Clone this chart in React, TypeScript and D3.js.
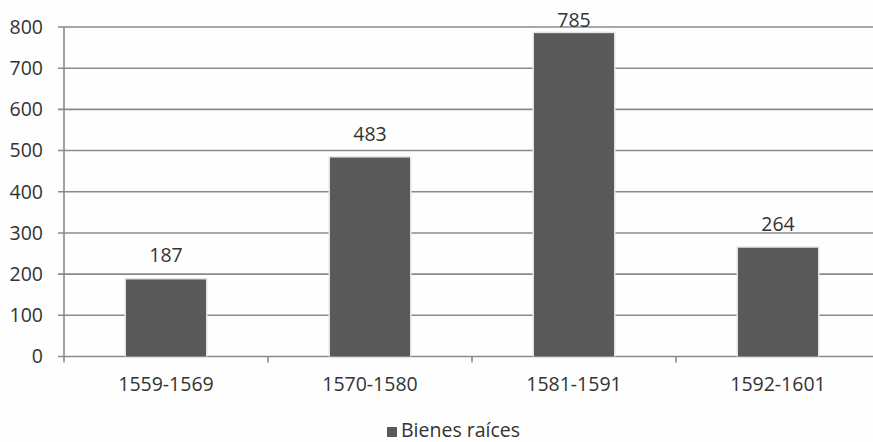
import React from "react";
import * as d3 from "d3";

const categories = ["1559-1569", "1570-1580", "1581-1591", "1592-1601"];
const values = [187, 483, 785, 264];
const yTicks = [0, 100, 200, 300, 400, 500, 600, 700, 800];
const seriesName = "Bienes raíces";

const W = 873;
const H = 442;
const FONT = "'Open Sans', sans-serif";

export default function App() {
  const left = 64;
  const right = 880;
  const top = 27;
  const bottom = 356.5;

  const x = d3.scaleBand<string>().domain(categories).range([left, right]).paddingInner(0).paddingOuter(0);
  const y = d3.scaleLinear().domain([0, 800]).range([bottom, top]);
  const barW = 80;
  const grid = "#8a8a8a";
  const text = "#333333";
  const fs = 19.5;

  return (
    <svg
      width={W}
      height={H}
      style={{ position: "absolute", left: 0, top: 0, background: "#fefefe" }}
      fontFamily={FONT}
    >
      <rect x={0} y={0} width={W} height={H} fill="#fefefe" />
      {yTicks.map((t) => (
        <g key={t}>
          <line x1={58} x2={W} y1={y(t)} y2={y(t)} stroke={grid} strokeWidth={1.6} />
          <text x={43} y={y(t)} dy="0.35em" textAnchor="end" fontSize={fs} fill={text}>
            {t}
          </text>
        </g>
      ))}
      <line x1={left} x2={left} y1={top} y2={bottom + 6} stroke={grid} strokeWidth={1.6} />
      {categories.slice(1).map((c) => (
        <line key={c} x1={x(c)!} x2={x(c)!} y1={bottom} y2={bottom + 6} stroke={grid} strokeWidth={1.6} />
      ))}
      {categories.map((c, i) => {
        const cx = x(c)! + x.bandwidth() / 2;
        const yt = y(values[i]);
        const labelY = Math.max(yt - 17, y(800));
        return (
          <g key={c}>
            <rect x={cx - barW / 2 - 1.5} y={yt - 1.5} width={barW + 3} height={bottom - yt + 1.5} fill="#e4e4e4" />
            <rect x={cx - barW / 2} y={yt} width={barW} height={bottom - yt} fill="#595959" />
            <text x={cx} y={labelY} textAnchor="middle" fontSize={fs} fill={text}>
              {values[i]}
            </text>
            <text x={cx} y={391} textAnchor="middle" fontSize={fs} fill={text}>
              {c}
            </text>
          </g>
        );
      })}
      <rect x={387} y={427} width={10} height={10} fill="#595959" />
      <text x={401} y={437} fontSize={fs} fill={text}>
        {seriesName}
      </text>
    </svg>
  );
}
